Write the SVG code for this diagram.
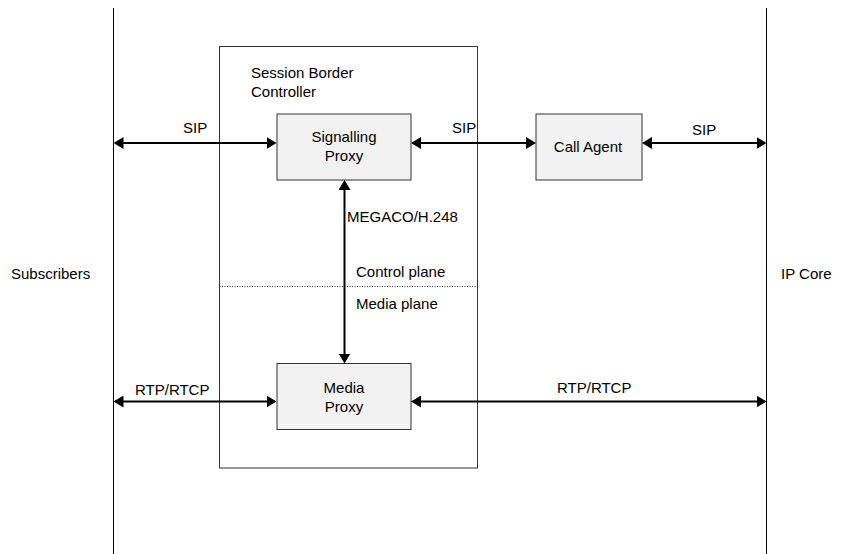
<svg xmlns="http://www.w3.org/2000/svg" width="842" height="554" viewBox="0 0 842 554">
<defs>
<marker id="ah" viewBox="0 0 10 12" markerWidth="10" markerHeight="12" refX="8" refY="6" orient="auto-start-reverse" markerUnits="userSpaceOnUse">
<path d="M0,0 L10,6 L0,12 z" fill="#000"/>
</marker>
<style>
text{font-family:"Liberation Sans",Arial,sans-serif;font-size:15px;fill:#000}
.c{text-anchor:middle}
.box{fill:#f2f2f2;stroke:#333;stroke-width:1}
.frame{fill:none;stroke:#333;stroke-width:1}
.conn{stroke:#000;stroke-width:2;fill:none;marker-start:url(#ah);marker-end:url(#ah)}
.edge{stroke:#000;stroke-width:1}
</style>
</defs>
<rect width="842" height="554" fill="#fff"/>
<g id="boundaries">
<line class="edge" x1="113.5" y1="8" x2="113.5" y2="554"/>
<line class="edge" x1="766.5" y1="8" x2="766.5" y2="554"/>
<text x="11" y="279">Subscribers</text>
<text x="781" y="279">IP Core</text>
</g>
<g id="sbc">
<rect class="frame" x="219.5" y="46.5" width="258" height="421.5"/>
<text x="251" y="78">Session Border</text>
<text x="251" y="97">Controller</text>
<line x1="219.5" y1="286.5" x2="477.5" y2="286.5" stroke="#333" stroke-width="1" stroke-dasharray="1,1.5"/>
<text x="356" y="277">Control plane</text>
<text x="356" y="309">Media plane</text>
</g>
<g id="signalling-proxy">
<rect class="box" x="277" y="114" width="134" height="66"/>
<text class="c" x="344" y="142">Signalling</text>
<text class="c" x="344" y="161">Proxy</text>
</g>
<g id="call-agent">
<rect class="box" x="536" y="114" width="106" height="66"/>
<text class="c" x="588" y="152">Call Agent</text>
</g>
<g id="media-proxy">
<rect class="box" x="277" y="363.5" width="134" height="66"/>
<text class="c" x="344" y="393">Media</text>
<text class="c" x="344" y="412">Proxy</text>
</g>
<g id="connectors">
<line class="conn" x1="115.5" y1="143" x2="274.5" y2="143"/>
<line class="conn" x1="413" y1="143" x2="534" y2="143"/>
<line class="conn" x1="644" y1="143" x2="764.5" y2="143"/>
<line class="conn" x1="344.5" y1="182" x2="344.5" y2="361.5"/>
<line class="conn" x1="115.5" y1="401.5" x2="274.5" y2="401.5"/>
<line class="conn" x1="413" y1="401.5" x2="764.5" y2="401.5"/>
<text x="183" y="133">SIP</text>
<text x="452" y="133">SIP</text>
<text x="692" y="135">SIP</text>
<text x="347" y="222">MEGACO/H.248</text>
<text x="135" y="395">RTP/RTCP</text>
<text x="557" y="393">RTP/RTCP</text>
</g>
</svg>
